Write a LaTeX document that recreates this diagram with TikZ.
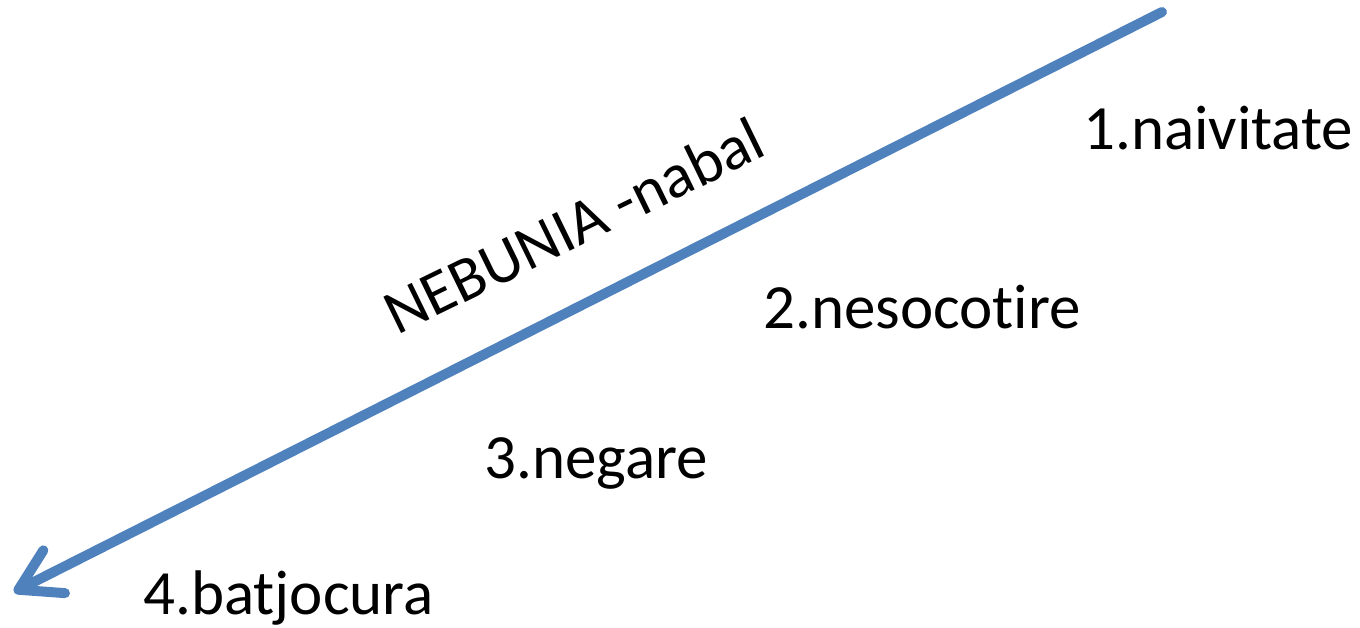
\documentclass[tikz,border=0pt]{standalone}
\usepackage{fontspec}
\setmainfont[Ligatures={NoCommon}]{Carlito}
\usetikzlibrary{arrows.meta}
\definecolor{arrowblue}{HTML}{4F81BD}

\begin{document}
\begin{tikzpicture}[line cap=round,line join=round,x=1pt,y=-1pt,
  word/.style={anchor=base west,inner sep=0pt,font=\fontsize{63}{75}\selectfont},
  pointer/.style={arrowblue,line width=10pt,-{Straight Barb[round,length=40pt,width=48pt]}}]
\useasboundingbox (0,0) rectangle (1360,628);
% arrow
\coordinate (top) at (1162,12);
\coordinate (tip) at (14,592);
\draw[pointer] (top) -- (tip);
% label on the arrow
\node[anchor=base,inner sep=0pt,font=\fontsize{63}{75}\selectfont,rotate=26] (title) at (583,245) {NEBUNIA -nabal};
% steps
\node[word] (n1) at (1083,150) {1.naivitate};
\node[word] (n2) at (763,328) {2.nesocotire};
\node[word] (n3) at (484,478) {3.negare};
\node[word] (n4) at (143,614) {4.batjocura};
\end{tikzpicture}
\end{document}
